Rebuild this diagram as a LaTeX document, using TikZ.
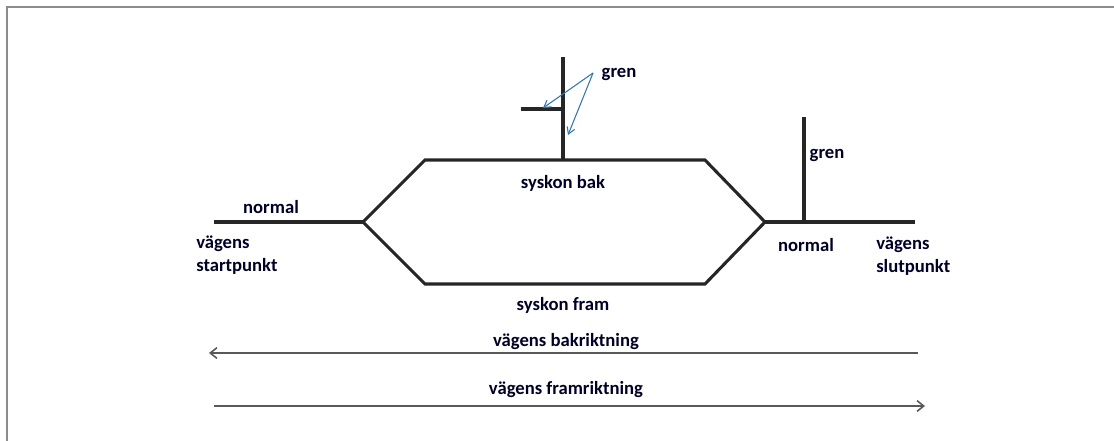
\documentclass[tikz,border=0pt]{standalone}
\usepackage{fontspec}
\setmainfont{Carlito}
\usetikzlibrary{arrows.meta}

\begin{document}
\begin{tikzpicture}[x=0.75pt,y=-0.75pt]
\tikzstyle{every node}+=[inner sep=0pt, font=\fontsize{14}{17}\selectfont\bfseries, text=black!85!blue]
\tikzstyle{track}=[line width=2.3pt, line join=miter, black!85]
\tikzstyle{dirarrow}=[line width=1.2pt, black!65, -{Straight Barb[length=5pt,width=8pt]}]
\tikzstyle{pointer}=[line width=0.8pt, blue!45!cyan!60!black!80, -{Straight Barb[length=5pt,width=6pt]}]
\useasboundingbox (0,0) rectangle (1114,440);
\clip (0,0) rectangle (1114,440);
\draw [line width=1.5pt, black!45] (7,7) rectangle (1140,470);
% spåret
\coordinate (start) at (214,222);
\coordinate (vl) at (363,222);
\coordinate (tl) at (425,160);
\coordinate (tr) at (705,160);
\coordinate (vr) at (765,222);
\coordinate (br) at (705,284);
\coordinate (bl) at (425,284);
\coordinate (slut) at (915,222);
\draw [track] (vl) -- (tl) -- (tr) -- (vr) -- (br) -- (bl) -- cycle;
\draw [track] (start) -- (vl);
\draw [track] (vr) -- (slut);
% grenar
\coordinate (g1top) at (563,57);
\coordinate (g1bot) at (563,160);
\coordinate (g1stub) at (521,109);
\draw [track] (g1top) -- (g1bot);
\draw [track] (g1stub) -- (g1top |- g1stub);
\coordinate (g2top) at (804,117);
\draw [track] (g2top) -- (g2top |- slut);
% texter
\node (gren1) at (619,74) {gren};
\node (gren2) at (827,155) {gren};
\node (bak) at (563,183) {syskon bak};
\node (fram) at (563,305) {syskon fram};
\node (norm1) at (271,207) {normal};
\node (norm2) at (806,245) {normal};
\node [anchor=west, align=left] (startp) at (196,255) {vägens\\startpunkt};
\node [anchor=west, align=left] (slutp) at (876,256) {vägens\\slutpunkt};
\node (bakr) at (566,342) {vägens bakriktning};
\node (framr) at (566,390) {vägens framriktning};
% pilar
\coordinate (gp) at (593,73);
\draw [pointer] (gp) -- (543,108);
\draw [pointer] (gp) -- (568,135);
\coordinate (b1) at (918,353);
\coordinate (b2) at (209,353);
\draw [dirarrow] (b1) -- (b2);
\coordinate (f1) at (214,406);
\coordinate (f2) at (925,406);
\draw [dirarrow] (f1) -- (f2);
\end{tikzpicture}
\end{document}
